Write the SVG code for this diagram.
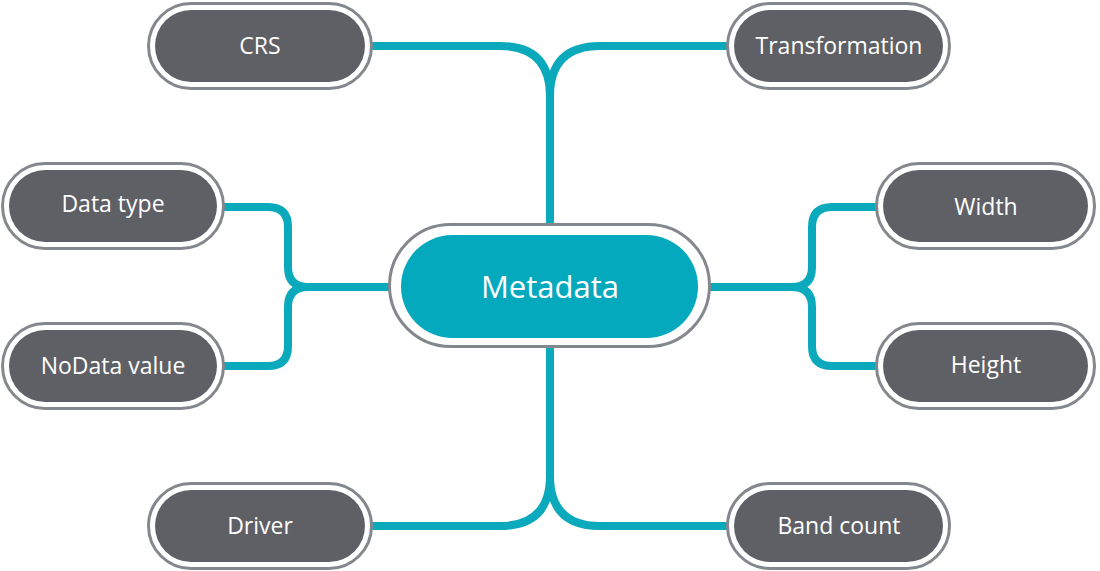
<svg xmlns="http://www.w3.org/2000/svg" width="1100" height="571" viewBox="0 0 1100 571">
<style>
.ring{fill:#fff;stroke:#84878c;stroke-width:3}
.pill{fill:#5f6066}
.lbl{font-family:"Open Sans","Liberation Sans",sans-serif;font-size:23px;fill:#fff;text-anchor:middle}
.conn{fill:none;stroke:#0aa9bb;stroke-width:8}
</style>
<rect width="1100" height="571" fill="#fff"/>
<g id="connectors">
<path class="conn" d="M372,46 H500 Q550,46 550,96 V226"/>
<path class="conn" d="M728,46 H600 Q550,46 550,96"/>
<path class="conn" d="M550,346 V476 Q550,526 500,526 H372"/>
<path class="conn" d="M550,476 Q550,526 600,526 H728"/>
<path class="conn" d="M223,207 H268 Q288,207 288,227 V267 Q288,287 308,287 H390"/>
<path class="conn" d="M223,366 H268 Q288,366 288,346 V307 Q288,287 308,287"/>
<path class="conn" d="M710,287 H792 Q812,287 812,267 V227 Q812,207 832,207 H877"/>
<path class="conn" d="M792,287 Q812,287 812,307 V346 Q812,366 832,366 H877"/>
</g>
<g id="metadata">
<rect class="ring" x="389.5" y="224.5" width="320" height="122" rx="61" stroke="#7d8a92"/>
<rect x="401" y="235" width="297" height="103" rx="51.5" fill="#04a9be"/>
<text class="lbl" x="550" y="298" style="font-size:31px">Metadata</text>
</g>
<g id="crs">
<rect class="ring" x="148.5" y="3.5" width="223" height="85" rx="42.5"/>
<rect class="pill" x="155" y="10" width="210" height="72" rx="36"/>
<text class="lbl" x="260" y="54">CRS</text>
</g>
<g id="transformation">
<rect class="ring" x="727.5" y="3.5" width="222" height="85" rx="42.5"/>
<rect class="pill" x="734" y="10" width="209" height="72" rx="36"/>
<text class="lbl" x="839" y="54">Transformation</text>
</g>
<g id="datatype">
<rect class="ring" x="2.5" y="163.5" width="221" height="85" rx="42.5"/>
<rect class="pill" x="9" y="170" width="208" height="72" rx="36"/>
<text class="lbl" x="113" y="212">Data type</text>
</g>
<g id="nodata">
<rect class="ring" x="2.5" y="323.5" width="221" height="85" rx="42.5"/>
<rect class="pill" x="9" y="330" width="208" height="72" rx="36"/>
<text class="lbl" x="113" y="374">NoData value</text>
</g>
<g id="width">
<rect class="ring" x="876.5" y="163.5" width="218" height="85" rx="42.5"/>
<rect class="pill" x="883" y="170" width="205" height="72" rx="36"/>
<text class="lbl" x="986" y="215">Width</text>
</g>
<g id="height">
<rect class="ring" x="876.5" y="323.5" width="218" height="85" rx="42.5"/>
<rect class="pill" x="883" y="330" width="205" height="72" rx="36"/>
<text class="lbl" x="986" y="373">Height</text>
</g>
<g id="driver">
<rect class="ring" x="148.5" y="483.5" width="223" height="85" rx="42.5"/>
<rect class="pill" x="155" y="490" width="210" height="72" rx="36"/>
<text class="lbl" x="260" y="534">Driver</text>
</g>
<g id="bandcount">
<rect class="ring" x="727.5" y="483.5" width="222" height="85" rx="42.5"/>
<rect class="pill" x="734" y="490" width="209" height="72" rx="36"/>
<text class="lbl" x="839" y="534">Band count</text>
</g>
</svg>
